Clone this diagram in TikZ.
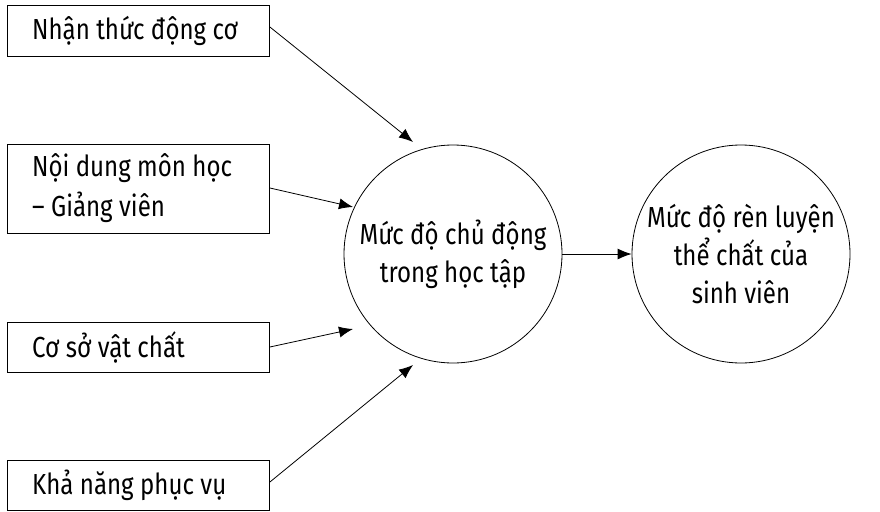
\documentclass[tikz,border=0pt]{standalone}
\usepackage{fontspec}
\setmainfont[FakeStretch=0.83]{Fira Sans}
\usetikzlibrary{arrows.meta}
\begin{document}
\begin{tikzpicture}[x=1pt,y=-1pt,
  lbl/.style={font=\fontsize{29}{40}\selectfont, inner sep=0pt},
  boxx/.style={draw, line width=0.9pt, minimum width=262pt, anchor=north west, inner sep=0pt},
  circ/.style={draw, circle, line width=0.8pt, minimum size=218pt, inner sep=0pt, align=center, font=\fontsize{29}{38}\selectfont},
  arr/.style={-{Latex[length=14pt,width=11pt]}, line width=0.8pt}]
\useasboundingbox (0,0) rectangle (880,511);
\node[boxx, minimum height=51pt] (b1) at (7,5) {};
\node[lbl, anchor=west] (t1) at (32,30.5) {Nhận thức động cơ};
\node[boxx, minimum height=89pt] (b2) at (7,144) {};
\node[lbl, anchor=west, align=left] (t2) at (32,188.5) {Nội dung môn học\\– Giảng viên};
\node[boxx, minimum height=50pt] (b3) at (7,322) {};
\node[lbl, anchor=west] (t3) at (32,347) {Cơ sở vật chất};
\node[boxx, minimum height=50pt] (b4) at (7,460) {};
\node[lbl, anchor=west] (t4) at (32,485) {Khả năng phục vụ};
\node[circ] (c1) at (453,254) {Mức độ chủ động\\trong học tập};
\node[circ] (c2) at (741,254) {Mức độ rèn luyện\\thể chất của\\sinh viên};
\coordinate (e1) at (413,142);
\coordinate (e2) at (353,207);
\coordinate (e3) at (353,329);
\coordinate (e4) at (413,365);
\draw[arr] (b1.north east |- 0,27) -- (e1);
\draw[arr] (b2.north east |- 0,188) -- (e2);
\draw[arr] (b3.north east |- 0,347) -- (e3);
\draw[arr] (b4.north east |- 0,482) -- (e4);
\draw[arr] (c1.east) -- (c2.west);
\end{tikzpicture}
\end{document}
